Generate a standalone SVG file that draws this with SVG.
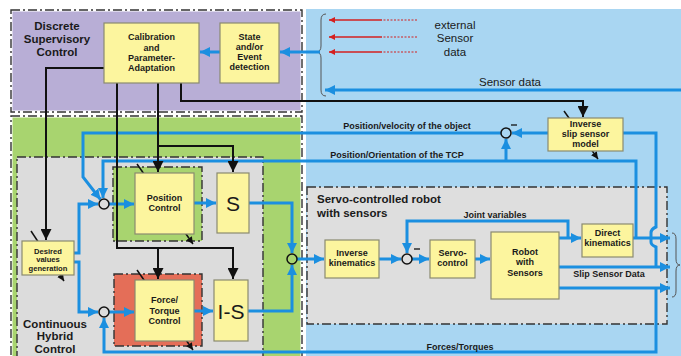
<svg xmlns="http://www.w3.org/2000/svg" width="681" height="356" viewBox="0 0 681 356">
<style>
text{font-family:"Liberation Sans",Arial,sans-serif;fill:#1a1a1a;text-anchor:middle}
.bx{fill:#fcf59e;stroke:#8a8a70;stroke-width:1.2}
.bt{font-size:9px;font-weight:bold}
.lb{font-size:9px;font-weight:bold}
.ti{font-size:11.5px;font-weight:bold}
.bl{fill:none;stroke:#1b8fe0;stroke-width:3;marker-end:url(#ab)}
.bln{fill:none;stroke:#1b8fe0;stroke-width:3}
.bk{fill:none;stroke:#111;stroke-width:2;marker-end:url(#ak)}
.dd{fill:none;stroke:#333;stroke-width:1.4;stroke-dasharray:9 3 2 3}
.wu{fill:none;stroke:#fff;stroke-width:3}
.sm{fill:none;stroke:#111;stroke-width:1.5}
.sc{fill:none;stroke:#111;stroke-width:1.5}
</style>
<defs>
<marker id="ab" markerUnits="userSpaceOnUse" markerWidth="11" markerHeight="10" refX="10" refY="5" orient="auto"><path d="M0,0 L10,5 L0,10 z" fill="#1b8fe0"/></marker>
<marker id="ak" markerUnits="userSpaceOnUse" markerWidth="12" markerHeight="11" refX="11" refY="5.5" orient="auto"><path d="M0,0 L11,5.5 L0,11 z" fill="#111"/></marker>
<marker id="ar" markerUnits="userSpaceOnUse" markerWidth="7" markerHeight="6" refX="6" refY="3" orient="auto"><path d="M0,0 L6,3 L0,6 z" fill="#d42020"/></marker>
<marker id="as" markerUnits="userSpaceOnUse" markerWidth="8" markerHeight="7" refX="7" refY="3.5" orient="auto"><path d="M0,0 L7,3.5 L0,7 z" fill="#111"/></marker>
</defs>
<rect x="0" y="0" width="681" height="356" fill="#fff"/>
<g id="regions">
<rect x="306" y="9" width="375" height="347" fill="#a9d6f2"/>
<rect x="11" y="10" width="291" height="102" fill="#b8aed6"/>
<rect x="11" y="10" width="291" height="102" class="wu"/>
<rect x="11" y="10" width="291" height="102" class="dd"/>
<rect x="11" y="116" width="291" height="245" fill="#a8d46f"/>
<rect x="11" y="116" width="291" height="245" class="wu"/>
<rect x="11" y="116" width="291" height="245" class="dd"/>
<rect x="17" y="157" width="246" height="204" fill="#dcdcdc"/>
<rect x="17" y="157" width="246" height="204" class="dd"/>
<rect x="113" y="167" width="89" height="74" fill="#a8d46f"/>
<rect x="113" y="167" width="89" height="74" class="dd"/>
<rect x="114" y="274" width="88" height="72" fill="#e46e58"/>
<rect x="114" y="274" width="88" height="72" class="dd"/>
<rect x="307" y="187" width="360" height="137" fill="#dedede"/>
<rect x="307" y="187" width="360" height="137" class="dd"/>
</g>
<g id="labels-regions">
<text class="ti" x="57" y="30">Discrete</text>
<text class="ti" x="57" y="43">Supervisory</text>
<text class="ti" x="57" y="56">Control</text>
<text class="ti" x="55" y="328">Continuous</text>
<text class="ti" x="55" y="340">Hybrid</text>
<text class="ti" x="55" y="353">Control</text>
<text class="ti" x="317" y="203" style="text-anchor:start">Servo-controlled robot</text>
<text class="ti" x="317" y="217" style="text-anchor:start">with sensors</text>
<text x="455" y="29" style="font-size:11.5px">external</text>
<text x="455" y="42" style="font-size:11.5px">Sensor</text>
<text x="455" y="56" style="font-size:11.5px">data</text>
<text x="510" y="86" style="font-size:11.5px">Sensor data</text>
</g>
<g id="connectors">
<path d="M326,14 Q321,14 321,20 L321,46 Q321,52 316,52 Q321,52 321,58 L321,90 Q321,96 326,96" fill="none" stroke="#555" stroke-width="1"/>
<path d="M672,233 Q676,233 676,239 L676,259 Q676,265 680,265 Q676,265 676,271 L676,291 Q676,297 672,297" fill="none" stroke="#555" stroke-width="1"/>
<path d="M382,20 L329,20" fill="none" stroke="#d42020" stroke-width="1.3" marker-end="url(#ar)"/>
<path d="M382,37 L329,37" fill="none" stroke="#d42020" stroke-width="1.3" marker-end="url(#ar)"/>
<path d="M382,52 L329,52" fill="none" stroke="#d42020" stroke-width="1.3" marker-end="url(#ar)"/>
<path d="M417,20 L382,20 M417,37 L382,37 M417,52 L382,52" fill="none" stroke="#d42020" stroke-width="1.2" stroke-dasharray="2 1.5"/>
<path class="bl" d="M681,90 L325,90"/>
<path class="bl" d="M320,52 L280,52"/>
<path class="bl" d="M220,52 L200,52"/>
<path class="bl" d="M548,133 L512,133"/>
<path class="bl" d="M501,133 L83,133 L83,177 L100.5,199.5"/>
<path class="bl" d="M636,238 L636,161 L103,161 L103,198"/>
<path class="bl" d="M506,161 L506,139"/>
<path class="bln" d="M623,133 L656,133 L656,227 Q651,229 651,233 L651,242 Q651,245 656,247 L656,267"/>
<path class="bl" d="M633,238 L670,238"/>
<path class="bl" d="M559,267 L670,267"/>
<path class="bl" d="M559,288 L670,288"/>
<path class="bl" d="M656,288 L656,352 L104,352 L104,318"/>
<path class="bl" d="M559,238 L581,238"/>
<path class="bl" d="M568,238 L568,221 L407,221 L407,253"/>
<path class="bl" d="M379,259 L401,259"/>
<path class="bl" d="M412,259 L429,259"/>
<path class="bl" d="M475,259 L490,259"/>
<path class="bl" d="M297,259 L324,259"/>
<path class="bl" d="M249,203 L292,203 L292,253"/>
<path class="bl" d="M248,311 L292,311 L292,265"/>
<path class="bl" d="M194,203 L216,203"/>
<path class="bl" d="M194,311 L213,311"/>
<path class="bl" d="M109,204 L134,204"/>
<path class="bl" d="M109,312 L134,312"/>
<path class="bl" d="M74,253 L79,253 L79,204 L98,204"/>
<path class="bl" d="M74,262 L79,262 L79,312 L98,312"/>
<path class="bk" d="M181,83 L181,101 L583,101 L583,117"/>
<path class="bk" d="M104,68 L46,68 L46,240"/>
<path class="bk" d="M117,83 L117,248 L233,248 L233,279"/>
<path class="bk" d="M158,248 L158,279"/>
<path class="bk" d="M158,83 L158,172"/>
<path class="bk" d="M158,146 L233,146 L233,172"/>
<path class="sm" d="M137,164 L193,244" marker-end="url(#as)"/>
<path class="sm" d="M137,270 L193,350" marker-end="url(#as)"/>
<path class="sm" d="M31,231 L64,281" marker-end="url(#as)"/>
<path class="sm" d="M564,111 L598,159" marker-end="url(#as)"/>
<text class="lb" x="407" y="129">Position/velocity of the object</text>
<text class="lb" x="397" y="158">Position/Orientation of the TCP</text>
<text class="lb" x="495" y="218">Joint variables</text>
<text class="lb" x="609" y="277">Slip Sensor Data</text>
<text class="lb" x="460" y="350">Forces/Torques</text>
</g>
<g id="sum-pos"><circle cx="104" cy="204" r="5" class="sc"/></g>
<g id="sum-force"><circle cx="104" cy="312" r="5" class="sc"/></g>
<g id="sum-out"><circle cx="292" cy="259" r="5" class="sc"/></g>
<g id="sum-servo"><circle cx="407" cy="259" r="5" class="sc"/><path d="M414,249 L420,249" stroke="#111" stroke-width="1.3"/></g>
<g id="sum-slip"><circle cx="506" cy="133" r="5" class="sc"/><path d="M511,125 L517,125" stroke="#111" stroke-width="1.3"/></g>
<g id="calibration"><rect class="bx" x="104" y="23" width="95" height="60"/>
<text class="bt" x="151.5" y="40">Calibration</text><text class="bt" x="151.5" y="51">and</text><text class="bt" x="151.5" y="61">Parameter-</text><text class="bt" x="151.5" y="71">Adaptation</text></g>
<g id="state"><rect class="bx" x="220" y="23" width="59" height="60"/>
<text class="bt" x="249.5" y="40">State</text><text class="bt" x="249.5" y="50">and/or</text><text class="bt" x="249.5" y="60">Event</text><text class="bt" x="249.5" y="70">detection</text></g>
<g id="position"><rect class="bx" x="135" y="173" width="59" height="61"/>
<text class="bt" x="164.5" y="201">Position</text><text class="bt" x="164.5" y="211">Control</text></g>
<g id="s"><rect class="bx" x="217" y="173" width="32" height="60"/>
<text x="233" y="211" style="font-size:21px">S</text></g>
<g id="desired"><rect class="bx" x="22" y="241" width="52" height="34"/>
<text x="48" y="253.5" style="font-size:7.6px;font-weight:bold">Desired</text><text x="48" y="262" style="font-size:7.6px;font-weight:bold">values</text><text x="48" y="270.5" style="font-size:7.6px;font-weight:bold">generation</text></g>
<g id="force"><rect class="bx" x="135" y="280" width="59" height="61"/>
<text class="bt" x="164.5" y="303">Force/</text><text class="bt" x="164.5" y="314">Torque</text><text class="bt" x="164.5" y="324">Control</text></g>
<g id="is"><rect class="bx" x="214" y="280" width="34" height="61"/>
<text x="231" y="319" style="font-size:21px">I-S</text></g>
<g id="invkin"><rect class="bx" x="325" y="240" width="54" height="38"/>
<text class="bt" x="352" y="256">Inverse</text><text class="bt" x="352" y="266">kinematics</text></g>
<g id="servo"><rect class="bx" x="430" y="240" width="45" height="38"/>
<text class="bt" x="452.5" y="256">Servo-</text><text class="bt" x="452.5" y="266">control</text></g>
<g id="robot"><rect class="bx" x="491" y="232" width="68" height="67"/>
<text class="bt" x="525" y="255">Robot</text><text class="bt" x="525" y="265">with</text><text class="bt" x="525" y="276">Sensors</text></g>
<g id="dirkin"><rect class="bx" x="582" y="224" width="51" height="33"/>
<text class="bt" x="607.5" y="236">Direct</text><text class="bt" x="607.5" y="246">kinematics</text></g>
<g id="invslip"><rect class="bx" x="548" y="118" width="75" height="33"/>
<text class="bt" x="585.5" y="127">Inverse</text><text class="bt" x="585.5" y="137">slip sensor</text><text class="bt" x="585.5" y="147">model</text></g>
</svg>
